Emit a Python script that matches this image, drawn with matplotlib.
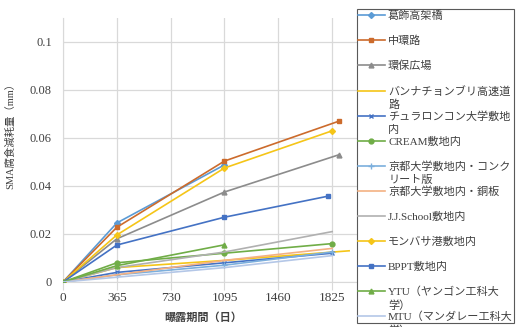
import matplotlib
matplotlib.use("Agg")
import matplotlib.pyplot as plt

plt.rcParams['font.family'] = ['Liberation Serif', 'Noto Sans CJK JP', 'DejaVu Sans']

# ---- data ----
labels = ["葛飾高架橋", "中環路", "環保広場", "バンナチョンブリ高速道路",
          "チュラロンコン大学敷地内", "CREAM敷地内", "京都大学敷地内・コンクリート版",
          "京都大学敷地内・銅板", "J.J.School敷地内", "モンバサ港敷地内",
          "BPPT敷地内", "YTU（ヤンゴン工科大学）", "MTU（マンダレー工科大学）"]
# legend first-line / wrapped remainder (Excel wraps long names)
label_line1 = ["葛飾高架橋", "中環路", "環保広場", "バンナチョンブリ高速道",
               "チュラロンコン大学敷地", "CREAM敷地内", "京都大学敷地内・コンク",
               "京都大学敷地内・銅板", "J.J.School敷地内", "モンバサ港敷地内",
               "BPPT敷地内", "YTU（ヤンゴン工科大", "MTU（マンダレー工科大"]
label_line2 = ["", "", "", "路", "内", "", "リート版", "", "", "", "", "学）", "学）"]

days = [
    [0, 365, 1095],            # 葛飾高架橋
    [0, 365, 1095, 1870],      # 中環路
    [0, 365, 1095, 1870],      # 環保広場
    [0, 365, 1095, 1940],      # バンナチョンブリ高速道路
    [0, 365, 1095, 1825],      # チュラロンコン
    [0, 365, 1095, 1825],      # CREAM
    [0, 365, 1095, 1825],      # 京都 コンクリート版
    [0, 365, 1095, 1825],      # 京都 銅板
    [0, 365, 1095, 1825],      # J.J.School
    [0, 365, 1095, 1825],      # モンバサ
    [0, 365, 1095, 1800],      # BPPT
    [0, 365, 1095],            # YTU
    [0, 365, 1095, 1825],      # MTU
]
loss = [
    [0, 0.0246, 0.0488],
    [0, 0.0228, 0.0504, 0.0670],
    [0, 0.0180, 0.0375, 0.0530],
    [0, 0.0060, 0.0090, 0.0130],
    [0, 0.0040, 0.0080, 0.0120],
    [0, 0.0080, 0.0120, 0.0160],
    [0, 0.0030, 0.0070, 0.0125],
    [0, 0.0030, 0.0090, 0.0140],
    [0, 0.0060, 0.0125, 0.0210],
    [0, 0.0196, 0.0475, 0.0630],
    [0, 0.0154, 0.0270, 0.0358],
    [0, 0.0068, 0.0155],
    [0, 0.0020, 0.0060, 0.0110],
]
xticks = [0, 365, 730, 1095, 1460, 1825]
yticks = [0, 0.02, 0.04, 0.06, 0.08, 0.1]
ytick_labels = ["0", "0.02", "0.04", "0.06", "0.08", "0.1"]

colors = ["#5B9BD5", "#CC6B2C", "#8C8C8C", "#F5C518", "#4472C4", "#70AD47",
          "#7CAFDD", "#F4B183", "#B0B0B0", "#F5C518", "#4472C4", "#70AD47", "#B4C7E7"]
markers = ["D", "s", "^", None, "x", "o", "+", None, None, "D", "s", "^", None]
msizes = [3, 3.5, 3.5, 0, 3.5, 3.5, 4.5, 0, 0, 3, 3.5, 3.5, 0]

W, H = 517, 327
fig = plt.figure(figsize=(W / 100, H / 100), dpi=100)
ax = fig.add_axes([63 / W, (H - 282) / H, (386 - 63) / W, (282 - 18) / H])

handles = []
for i in range(len(labels)):
    h, = ax.plot(days[i], loss[i], color=colors[i], lw=1.2,
                 marker=markers[i] if markers[i] else None,
                 ms=msizes[i], mew=1.0, label=label_line1[i], zorder=3)
    handles.append(h)

ax.set_xlim(0, 2190)
ax.set_ylim(0, 0.11)
ax.set_xticks(xticks)
ax.set_xticklabels([str(v) for v in xticks])
ax.set_yticks(yticks)
ax.set_yticklabels(ytick_labels)
ax.grid(True, color="#D9D9D9", lw=0.9)
ax.set_axisbelow(True)
for s in ["top", "right"]:
    ax.spines[s].set_visible(False)
for s in ["left", "bottom"]:
    ax.spines[s].set_color("#D9D9D9")
ax.tick_params(axis="x", length=6, color="#D9D9D9", labelsize=9.5, labelcolor="#404040", pad=1)
ax.tick_params(axis="y", length=0, labelsize=9, labelcolor="#404040", pad=8)

ax.set_ylabel("SMA腐食減耗量（mm）", fontsize=7.5, color="#404040")
ax.yaxis.set_label_coords((15 - 63) / (386 - 63), (282 - 133) / (282 - 18))
ax.set_xlabel("曝露期間（日）", fontsize=8, fontweight="bold", color="#404040")
ax.xaxis.set_label_coords((203 - 63) / (386 - 63), -0.115)

leg = ax.legend(handles=handles, loc="upper left",
                bbox_to_anchor=(357 / W, 1 - 9 / H), bbox_transform=fig.transFigure,
                borderaxespad=0, fancybox=False, framealpha=1, edgecolor="#595959",
                fontsize=8, labelspacing=1.32, handlelength=2.4, handletextpad=0.3,
                borderpad=0.1)
leg.get_frame().set_linewidth(0.8)
for t in leg.get_texts():
    t.set_color("#404040")
leg.set_zorder(10)

# wrapped remainders of long legend labels
fig.canvas.draw()
r = fig.canvas.get_renderer()
for t, rest in zip(leg.get_texts(), label_line2):
    if rest:
        bb = t.get_window_extent(r)
        fig.text(bb.x0 / W, (bb.y0 - 3) / H, rest, fontsize=8, color="#404040",
                 ha="left", va="top", zorder=11)

fig.savefig("out.png", dpi=100)
